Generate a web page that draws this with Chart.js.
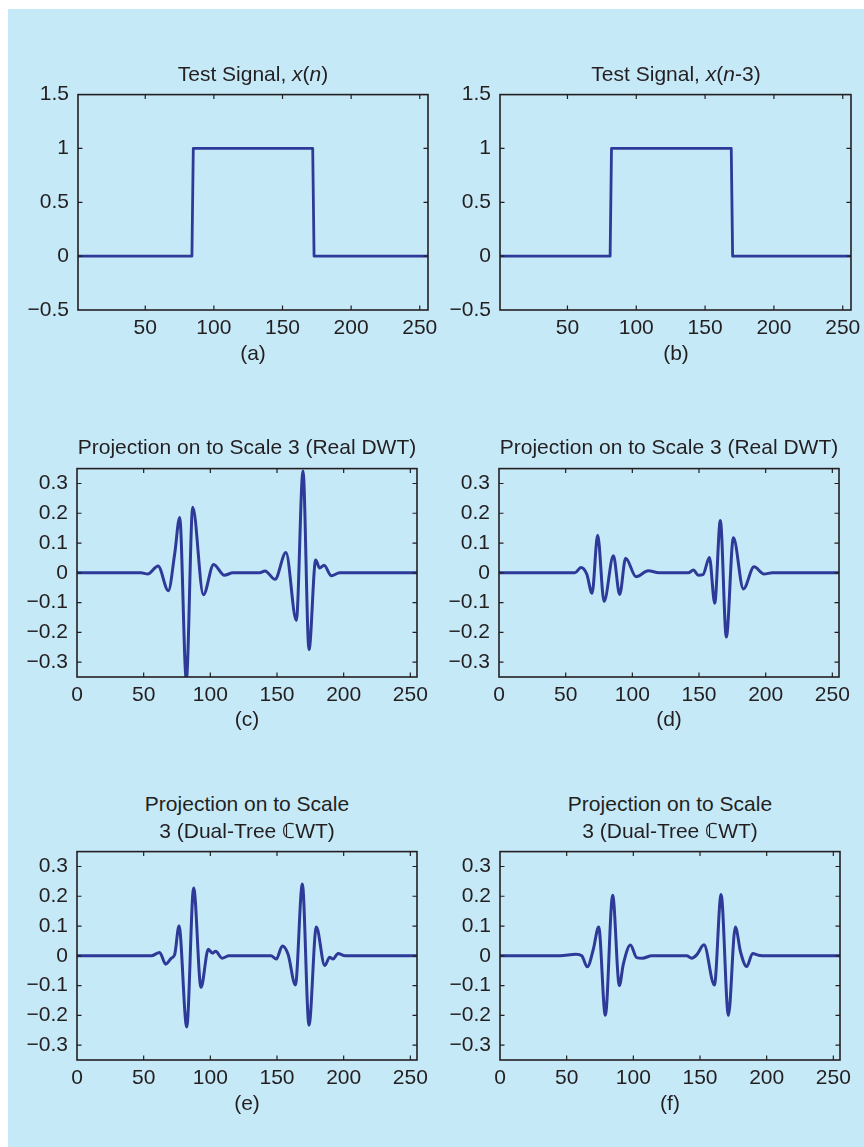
<!DOCTYPE html>
<html><head><meta charset="utf-8">
<script src="https://cdn.jsdelivr.net/npm/chart.js@4/dist/chart.umd.min.js"></script>
<style>
html,body{margin:0;padding:0;background:#ffffff;width:864px;height:1147px;overflow:hidden;position:relative;}
#panel{position:absolute;left:8px;top:9px;width:856px;height:1138px;background:#c6e9f8;}
.cw{position:absolute;}
.lbl{position:absolute;font-family:"Liberation Sans",Arial,Helvetica,sans-serif;font-size:21px;color:#231f20;text-align:center;white-space:nowrap;transform:translate(-50%,-50%);line-height:26px;}
</style></head>
<body>
<div id="panel"></div>
<script>
// ---------- tick values and labels ----------
const xTicksAB  = [50, 100, 150, 200, 250];
const xLabelsAB = ['50', '100', '150', '200', '250'];
const yTicksAB  = [-0.5, 0, 0.5, 1, 1.5];
const yLabelsAB = ['\u22120.5', '0', '0.5', '1', '1.5'];
const xTicksCF  = [0, 50, 100, 150, 200, 250];
const xLabelsCF = ['0', '50', '100', '150', '200', '250'];
const yTicksCF  = [-0.3, -0.2, -0.1, 0, 0.1, 0.2, 0.3];
const yLabelsCF = ['\u22120.3', '\u22120.2', '\u22120.1', '0', '0.1', '0.2', '0.3'];

// ---------- (a) test signal x(n) ----------
const sigA_n = [1, 84, 85, 172, 173, 256];
const sigA_v = [0, 0, 1, 1, 0, 0];
// ---------- (b) test signal x(n-3) ----------
const sigB_n = [1, 81, 82, 169, 170, 256];
const sigB_v = [0, 0, 1, 1, 0, 0];

// ---------- (c) real DWT, x(n) ----------
const dwtA_n = [0, 48, 53, 60.8, 68.5, 73.3, 77, 82, 86.8, 94.8, 102.5, 110.5, 117, 137, 141, 148.5, 156.7, 164.5, 169.5, 174, 179, 182, 185.3, 190.8, 197, 256];
const dwtA_v = [0, 0, -0.004, 0.023, -0.06, 0.065, 0.186, -0.36, 0.22, -0.074, 0.028, -0.008, 0, 0, 0.006, -0.022, 0.068, -0.16, 0.342, -0.258, 0.043, 0.016, 0.025, -0.01, 0, 0];

// ---------- (d) real DWT, x(n-3) ----------
const dwtB_n = [0, 57, 61.5, 65.8, 69.8, 74, 78.8, 85.8, 90.5, 95, 102.8, 112, 120, 142, 145.8, 149.5, 153, 157.8, 161.8, 166, 170.5, 175.8, 183.3, 191.3, 198.8, 205, 256];
const dwtB_v = [0, 0, 0.018, -0.004, -0.069, 0.126, -0.096, 0.057, -0.073, 0.049, -0.013, 0.007, 0, 0, 0.009, -0.008, -0.006, 0.051, -0.102, 0.176, -0.216, 0.118, -0.054, 0.02, -0.004, 0, 0];

// ---------- (e) dual-tree CWT, x(n) ----------
const cwtA_n = [0, 55.8, 62, 66.5, 70.8, 73.3, 76.5, 82.3, 87.5, 93, 98.5, 101.5, 104, 108.8, 114, 145.5, 149.5, 154, 158.3, 163.8, 169, 174, 179.5, 185.8, 189.5, 192, 195.8, 201, 256];
const cwtA_v = [0, 0, 0.011, -0.028, -0.008, 0.005, 0.1, -0.239, 0.228, -0.106, 0.022, 0.009, 0.015, -0.008, 0, 0, -0.011, 0.033, 0.005, -0.098, 0.241, -0.233, 0.097, -0.033, -0.005, -0.011, 0.008, 0, 0];

// ---------- (f) dual-tree CWT, x(n-3) ----------
const cwtB_n = [0, 45, 57, 61.3, 65.5, 70, 74, 79, 84.5, 89.5, 92.5, 97.8, 102.5, 106.8, 113.8, 140, 143.8, 147.5, 153, 160.8, 165.8, 171.3, 176.5, 180.5, 185, 189.5, 193.8, 200, 256];
const cwtB_v = [0, 0, 0.005, 0, -0.037, 0.022, 0.097, -0.2, 0.203, -0.1, -0.028, 0.036, -0.006, -0.008, 0, 0, -0.008, 0.003, 0.037, -0.098, 0.206, -0.2, 0.097, 0.011, -0.036, 0.008, 0.002, 0, 0];

// ---------- drawing ----------
const FONT = '"Liberation Sans", Arial, Helvetica, sans-serif';
const INK = '#231f20';
const LINE = '#2d3a98';
const PL = 80, PT = 20, PR = 22, PB = 45;

const frame = {
  id: 'frame',
  afterDatasetsDraw(chart) {
    const { ctx, chartArea: a, scales: { x, y } } = chart;
    ctx.save();
    ctx.strokeStyle = INK;
    ctx.lineWidth = 1.6;
    ctx.strokeRect(a.left, a.top, a.right - a.left, a.bottom - a.top);
    ctx.lineWidth = 1.2;
    const L = 4.5;
    ctx.beginPath();
    x.ticks.forEach(t => {
      const p = x.getPixelForValue(t.value);
      if (p <= a.left + 1 || p >= a.right - 1) return;
      ctx.moveTo(p, a.bottom); ctx.lineTo(p, a.bottom - L);
      ctx.moveTo(p, a.top); ctx.lineTo(p, a.top + L);
    });
    y.ticks.forEach(t => {
      const p = y.getPixelForValue(t.value);
      if (p <= a.top + 1 || p >= a.bottom - 1) return;
      ctx.moveTo(a.left, p); ctx.lineTo(a.left + L, p);
      ctx.moveTo(a.right, p); ctx.lineTo(a.right - L, p);
    });
    ctx.stroke();
    ctx.restore();
  }
};

function addLabel(html, cx, cy) {
  const d = document.createElement('div');
  d.className = 'lbl';
  d.innerHTML = html;
  d.style.left = cx + 'px';
  d.style.top = cy + 'px';
  document.body.appendChild(d);
}

function makeChart(box, n, v, xr, yr, xT, xL, yT, yL, smooth, lw) {
  const [l, t, r, b] = box;
  const div = document.createElement('div');
  div.className = 'cw';
  div.style.left = (l - PL) + 'px';
  div.style.top = (t - PT) + 'px';
  div.style.width = (r - l + PL + PR) + 'px';
  div.style.height = (b - t + PT + PB) + 'px';
  const cv = document.createElement('canvas');
  div.appendChild(cv);
  document.body.appendChild(div);
  const pts = n.map((xv, i) => ({ x: xv, y: v[i] }));
  new Chart(cv, {
    type: 'line',
    data: { datasets: [{
      data: pts, borderColor: LINE, borderWidth: lw, pointRadius: 0,
      fill: false, tension: 0,
      cubicInterpolationMode: smooth ? 'monotone' : 'default',
      borderJoinStyle: 'round', borderCapStyle: 'round'
    }] },
    options: {
      responsive: true, maintainAspectRatio: false, animation: false,
      layout: { padding: { left: 0, top: PT, right: PR, bottom: 0 } },
      plugins: { legend: { display: false }, tooltip: { enabled: false }, title: { display: false } },
      scales: {
        x: {
          type: 'linear', min: xr[0], max: xr[1],
          grid: { display: false, drawTicks: false }, border: { display: false },
          afterBuildTicks: s => { s.ticks = xT.map(val => ({ value: val })); },
          afterFit: s => { s.height = PB; },
          ticks: { autoSkip: false, maxRotation: 0, padding: 6, color: INK,
                   font: { family: FONT, size: 21 }, callback: (val, i) => xL[i] }
        },
        y: {
          type: 'linear', min: yr[0], max: yr[1],
          grid: { display: false, drawTicks: false }, border: { display: false },
          afterBuildTicks: s => { s.ticks = yT.map(val => ({ value: val })); },
          afterFit: s => { s.width = PL; },
          ticks: { autoSkip: false, padding: 9, color: INK,
                   font: { family: FONT, size: 21 }, callback: (val, i) => yL[i] }
        }
      }
    },
    plugins: [frame]
  });
}

const bA = [78, 93, 428, 310], bB = [500, 93, 851, 310];
const bC = [77, 467, 417, 677], bD = [499, 467, 839, 677];
const bE = [77, 850, 417, 1060], bF = [500, 850, 840, 1060];

makeChart(bA, sigA_n, sigA_v, [1, 256], [-0.5, 1.5], xTicksAB, xLabelsAB, yTicksAB, yLabelsAB, false, 2.8);
makeChart(bB, sigB_n, sigB_v, [1, 256], [-0.5, 1.5], xTicksAB, xLabelsAB, yTicksAB, yLabelsAB, false, 2.8);
makeChart(bC, dwtA_n, dwtA_v, [0, 255], [-0.35, 0.35], xTicksCF, xLabelsCF, yTicksCF, yLabelsCF, true, 3);
makeChart(bD, dwtB_n, dwtB_v, [0, 255], [-0.35, 0.35], xTicksCF, xLabelsCF, yTicksCF, yLabelsCF, true, 3);
makeChart(bE, cwtA_n, cwtA_v, [0, 255], [-0.35, 0.35], xTicksCF, xLabelsCF, yTicksCF, yLabelsCF, true, 3);
makeChart(bF, cwtB_n, cwtB_v, [0, 255], [-0.35, 0.35], xTicksCF, xLabelsCF, yTicksCF, yLabelsCF, true, 3);

// titles and captions
addLabel('Test Signal, <i>x</i>(<i>n</i>)', 253, 74);
addLabel('Test Signal, <i>x</i>(<i>n</i>-3)', 676, 74);
addLabel('Projection on to Scale 3 (Real DWT)', 247, 447);
addLabel('Projection on to Scale 3 (Real DWT)', 669, 447);
addLabel('Projection on to Scale', 247, 804);
addLabel('3 (Dual-Tree \u2102WT)', 247, 831);
addLabel('Projection on to Scale', 670, 804);
addLabel('3 (Dual-Tree \u2102WT)', 670, 831);
addLabel('(a)', 253, 353);
addLabel('(b)', 676, 353);
addLabel('(c)', 247, 719);
addLabel('(d)', 669, 719);
addLabel('(e)', 247, 1103);
addLabel('(f)', 670, 1103);
</script>
</body></html>
